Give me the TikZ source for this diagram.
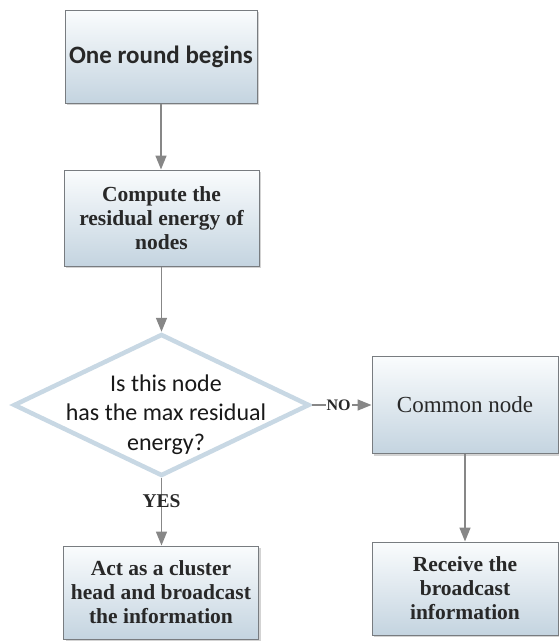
\documentclass[tikz,border=0pt]{standalone}
\usepackage{fontspec}
\setmainfont{Liberation Serif}
\newfontfamily\calfont{Carlito}
\usetikzlibrary{arrows.meta,shapes.geometric,shadows}

\definecolor{boxtop}{RGB}{250,252,253}
\definecolor{boxbot}{RGB}{196,212,224}
\definecolor{boxedge}{RGB}{120,124,128}
\definecolor{diaedge}{RGB}{200,216,228}
\definecolor{linkgray}{RGB}{135,135,135}
\definecolor{ink}{RGB}{40,40,40}

\begin{document}
\begin{tikzpicture}[x=1pt,y=-1pt,
  procbox/.style={rectangle, draw=boxedge, line width=1pt,
    top color=boxtop, bottom color=boxbot, align=center,
    text=ink, inner sep=2pt,
    drop shadow={shadow xshift=2pt, shadow yshift=-2pt, opacity=0.35}},
  serifbold/.style={font=\fontsize{21.5}{24}\selectfont\bfseries},
  decision/.style={diamond, draw=diaedge, line width=4.5pt, fill=white,
    inner sep=0pt, minimum width=296pt, minimum height=142pt},
  link/.style={draw=linkgray, line width=1.6pt,
    -{Triangle[length=14pt,width=11pt,fill=linkgray]}},
  tag/.style={text=ink, inner sep=1pt}
]
\useasboundingbox (0,0) rectangle (559,641);

% process boxes
\node[procbox, minimum width=192pt, minimum height=93pt,
  font=\calfont\fontsize{25}{29}\selectfont\bfseries]
  (start) at (161,56.5) {One round begins};
\node[procbox, serifbold, minimum width=195pt, minimum height=96pt]
  (comp) at (161.5,218) {Compute the\\residual energy of\\nodes};

% decision
\node[decision] (dec) at (161.5,405) {};
\node[text=black!90, align=center, font=\calfont\fontsize{24}{29.5}\selectfont]
  (dectext) at (166,414.5) {Is this node\\has the max residual\\energy?};

\node[procbox, minimum width=186pt, minimum height=97pt,
  font=\fontsize{23}{26}\selectfont]
  (common) at (465,405) {Common node};
\node[procbox, serifbold, minimum width=195pt, minimum height=93pt]
  (head) at (161,592.5) {Act as a cluster\\head and broadcast\\the information};
\node[procbox, serifbold, minimum width=186pt, minimum height=93pt]
  (recv) at (465,588.5) {Receive the\\broadcast\\information};

% connectors
\draw[link] (start.south) -- (start.south |- comp.north);
\draw[link] (comp.south) -- (comp.south |- dec.north);
\draw[link] (dec.east) -- (dec.east -| common.west)
  node[tag, pos=0.45, fill=white, font=\fontsize{16}{18}\selectfont\bfseries] (no) {NO};
\draw[link] (dec.south) -- (dec.south |- head.north)
  node[tag, pos=0.34, font=\fontsize{19.5}{22}\selectfont\bfseries] (yes) {YES};
\draw[link] (common.south) -- (common.south |- recv.north);
\end{tikzpicture}
\end{document}
